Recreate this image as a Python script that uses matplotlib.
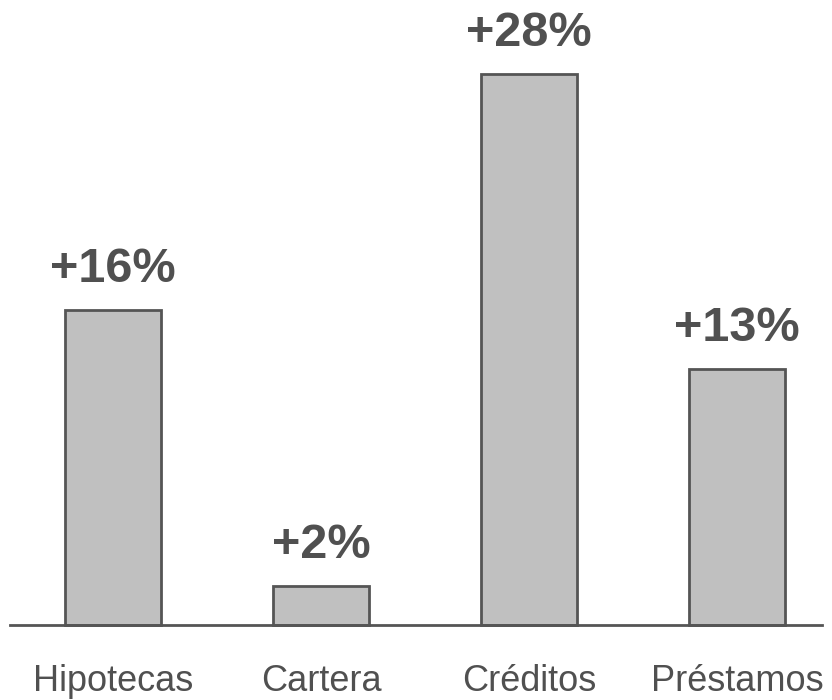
import matplotlib.pyplot as plt

# growth by product line
categories = ['Hipotecas', 'Cartera', 'Créditos', 'Préstamos']
growth = [16, 2, 28, 13]
labels = ['+16%', '+2%', '+28%', '+13%']

plt.rcParams['font.family'] = ['Liberation Sans', 'DejaVu Sans']

fig = plt.figure(figsize=(8.32, 7), dpi=100)
ax = fig.add_axes([0, 0, 1, 1])

x = list(range(len(categories)))
ax.bar(x, growth, width=0.46, color='#c0c0c0', edgecolor='#555555', linewidth=2, zorder=2)

# baseline under the bars
ax.axhline(0, xmin=10 / 832, xmax=822 / 832, color='#555555', linewidth=2, zorder=3)

for xi, v, lab in zip(x, growth, labels):
    ax.annotate(lab, (xi, v), xytext=(0, 13), textcoords='offset points',
                ha='center', va='bottom', fontsize=35, fontweight='bold', color='#505050')

for xi, cat in zip(x, categories):
    ax.text(xi, -3.33, cat, ha='center', va='baseline', fontsize=26, color='#505050')

ax.set_xlim(-0.543, 3.457)
ax.set_ylim(-3.81, 31.76)
ax.axis('off')

fig.savefig('out.png', dpi=100, facecolor='white')
